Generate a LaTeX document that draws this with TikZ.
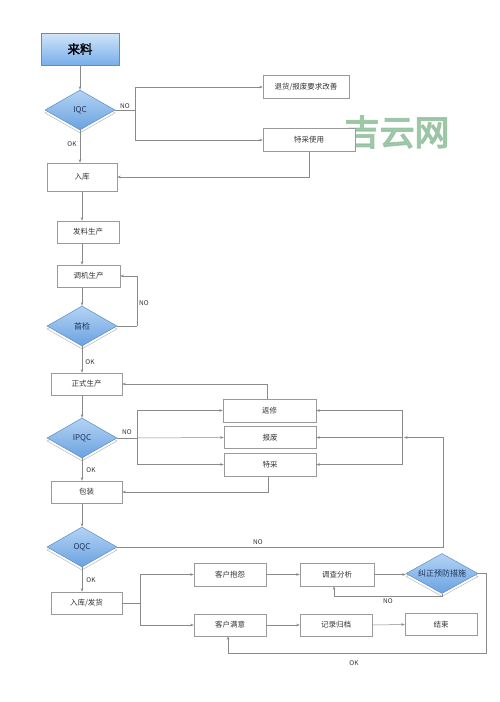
\documentclass[tikz,border=0pt]{standalone}
\usepackage{fontspec}
\setmainfont{Noto Sans CJK SC}
\newfontfamily\cjkbold[FakeBold=2]{Noto Sans CJK SC}
\newfontfamily\cjkheavy[FakeBold=4]{Noto Sans CJK SC}
\usetikzlibrary{shapes.geometric,arrows.meta,shadows}
\definecolor{linec}{HTML}{8A8A8A}
\definecolor{boxc}{HTML}{9A9A9A}
\definecolor{txtc}{HTML}{333333}
\definecolor{diab}{HTML}{5B8FC9}
\definecolor{diatop}{HTML}{B4D3F4}
\definecolor{diabot}{HTML}{6AA2E0}
\definecolor{diatext}{HTML}{1E3558}
\definecolor{lltop}{HTML}{D2E5F8}
\definecolor{llbot}{HTML}{78AEEA}
\definecolor{wmark}{HTML}{8FBE9A}
\begin{document}
\begin{tikzpicture}[x=1pt,y=-1pt,
  box/.style={draw=boxc, fill=white, line width=0.5pt, minimum width=#1, minimum height=22pt,
    inner sep=0pt, font=\fontsize{7.5}{9}\selectfont, text=txtc},
  box/.default=72pt,
  dia/.style={diamond, draw=diab, line width=0.5pt, top color=diatop, bottom color=diabot,
    minimum width=70pt, minimum height=40pt, inner sep=0pt,
    font=\fontsize{8}{9}\selectfont, text=diatext,
    general shadow={shadow yshift=-3pt, fill=white, draw=gray!55, line width=0.5pt}},
  arr/.style={draw=linec, line width=0.5pt, -{Stealth[length=3.5pt,width=2.6pt]}},
  ln/.style={draw=linec, line width=0.5pt},
  lbl/.style={font=\fontsize{6.5}{8}\selectfont, text=txtc, inner sep=0pt}
]
\useasboundingbox (0,0) rectangle (500,702);
\fill[white] (0,0) rectangle (500,702);

% watermark
\node[font=\cjkheavy\fontsize{35}{38}\selectfont, text=wmark, opacity=0.8] (wm) at (397,132) {吉云网};

% nodes
\node[draw=diab!80!gray, line width=0.5pt, top color=lltop, bottom color=llbot, minimum width=78pt, minimum height=32pt,
  inner sep=0pt, font=\cjkbold\fontsize{12.5}{14}\selectfont] (ll) at (80,49) {来料};
\node[dia] (iqc) at (80,110) {IQC};
\node[box=86pt, minimum height=23pt] (th) at (306,87) {退货/报废要求改善};
\node[box=92pt, minimum height=23pt] (tc1) at (309,140) {特采使用};
\node[box=70pt, minimum height=28pt] (rk) at (82,177) {入库};
\node[box=62pt] (fl) at (88,232) {发料生产};
\node[box=63pt] (tj) at (88.5,276) {调机生产};
\node[dia] (sj) at (82,326) {首检};
\node[box=71pt] (zs) at (86.5,384) {正式生产};
\node[box=93pt, minimum height=23pt] (fx) at (269.5,410.5) {返修};
\node[box=92pt] (bf) at (270,437.5) {报废};
\node[box=92pt, minimum height=23pt] (tc2) at (270,464.5) {特采};
\node[dia] (ipqc) at (82,438) {IPQC};
\node[box=71pt] (bz) at (86.5,492) {包装};
\node[dia] (oqc) at (82,547) {OQC};
\node[box=71pt] (rf) at (86.5,603) {入库/发货};
\node[box=72pt, minimum height=23pt] (kb) at (230,574.5) {客户抱怨};
\node[box=72pt] (km) at (230,625) {客户满意};
\node[box=74pt, minimum height=23pt] (dc) at (337,574.5) {调查分析};
\node[dia, minimum width=72pt] (jz) at (442,573.5) {\makebox[0pt]{纠正预防措施}};
\node[box=72pt] (jl) at (336,625) {记录归档};
\node[box=72pt] (js) at (441,624.5) {结束};

% junction coordinates
\coordinate (ja) at (135,110);
\coordinate (jb) at (137,326);
\coordinate (jc) at (137,438);
\coordinate (jd) at (402,437.5);
\coordinate (je) at (443,437.5);
\coordinate (jf) at (140,603);
\coordinate (jg) at (442,596);
\coordinate (jh) at (486,653);

% connectors
\draw[arr] (ll.south) -- (iqc.north);
\draw[ln] (iqc.east) -- (ja);
\draw[arr] (ja) |- (th.west);
\draw[arr] (ja) |- (tc1.west);
\draw[arr] (tc1.south) |- (rk.east);
\draw[arr] (iqc.south) -- (iqc.south |- rk.north);
\draw[arr] (rk.south) -- (rk.south |- fl.north);
\draw[arr] (rk.south |- fl.south) -- (rk.south |- tj.north);
\draw[arr] (rk.south |- tj.south) -- (sj.north);
\draw[ln] (sj.east) -- (jb);
\draw[arr] (jb) |- (tj.east);
\draw[arr] (sj.south) -- (sj.south |- zs.north);
\draw[arr] ([xshift=-2.5pt]fx.north) |- (zs.east);
\draw[arr] (sj.south |- zs.south) -- (ipqc.north);
\draw[ln] (ipqc.east) -- (jc);
\draw[arr] (jc) |- (fx.west);
\draw[arr] (jc) -- (bf.west);
\draw[arr] (jc) |- (tc2.west);
\draw[arr] ([xshift=-2pt]tc2.south) |- (bz.east);
\draw[arr] (ipqc.south) -- (ipqc.south |- bz.north);
\draw[arr] (ipqc.south |- bz.south) -- (oqc.north);
\draw[arr] (oqc.east) -| (je) -- ([xshift=2pt]jd);
\draw[arr] (jd) |- (fx.east);
\draw[arr] (jd) -- (bf.east);
\draw[arr] (jd) |- (tc2.east);
\draw[arr] (oqc.south) -- (oqc.south |- rf.north);
\draw[ln] (rf.east) -- (jf);
\draw[arr] (jf) |- (kb.west);
\draw[arr] (jf) |- (km.west);
\draw[arr] (kb.east) -- (dc.west);
\draw[arr] (dc.east) -- (dc.east -| jz.west);
\draw[arr] (jz.south) -- (jg) -| ([xshift=-3pt]dc.south);
\draw[arr] (jz.east) -| (jh) -| ([xshift=-2pt]km.south);
\draw[arr] (km.east) -- (jl.west);
\draw[arr] (jl.east) -- (js.west);

% labels
\node[lbl] (l1) at (125,106) {NO};
\node[lbl] (l2) at (72,144) {OK};
\node[lbl] (l3) at (144,303) {NO};
\node[lbl] (l4) at (90,362) {OK};
\node[lbl] (l5) at (127,432) {NO};
\node[lbl] (l6) at (91,470) {OK};
\node[lbl] (l7) at (258,542) {NO};
\node[lbl] (l8) at (91,580) {OK};
\node[lbl] (l9) at (388,601) {NO};
\node[lbl] (l10) at (354,663) {OK};
\end{tikzpicture}
\end{document}
